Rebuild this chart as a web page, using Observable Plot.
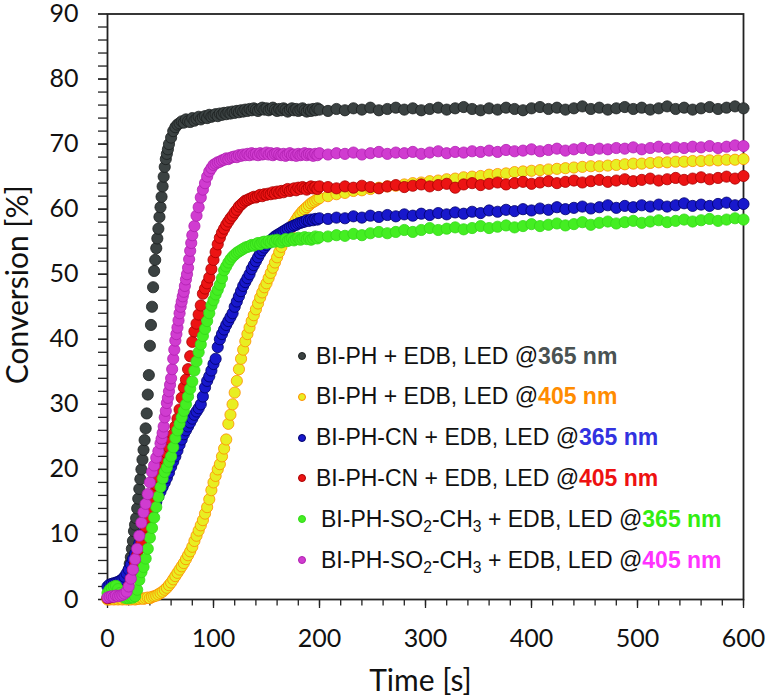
<!DOCTYPE html>
<html>
<head>
<meta charset="utf-8">
<script src="https://cdn.jsdelivr.net/npm/d3@7"></script>
<script src="https://cdn.jsdelivr.net/npm/@observablehq/plot@0.6"></script>
<style>
  html, body { margin: 0; padding: 0; background: #fff; }
  #wrap { position: relative; width: 767px; height: 698px; overflow: hidden; }
  #legend { position: absolute; left: 0; top: 0; font-family: "Liberation Sans", Arial, sans-serif; font-size: 23px; color: #111; }
  .row { position: absolute; height: 30px; display: flex; align-items: center; white-space: nowrap; }
  .dot { position: absolute; width: 8px; height: 8px; border-radius: 50%; box-sizing: border-box; border: 1px solid; }
  .lab sub { font-size: 0.68em; vertical-align: -0.3em; line-height: 0; }
  .nm { font-weight: bold; }
</style>
</head>
<body>
<div id="wrap"><div id="legend"></div></div>
<script>
// ---- Data ----
const times = [
  0,2,4,6,8,10,12,14,16,18,
  20,22,24,26,28,30,32,34,36,38,
  40,42,44,46,48,50,52,54,56,58,
  60,62,64,66,68,70,72,74,76,78,
  80,82,84,86,88,90,92,94,96,98,
  100,102,104,106,108,110,112,114,116,118,
  120,122,124,126,128,130,132,134,136,138,
  140,142,144,146,148,150,152,154,156,158,
  160,162,164,166,168,170,172,174,176,178,
  180,182,184,186,188,190,192,194,196,198,
  200,
  208,216,224,232,240,248,256,264,272,280,
  288,296,304,312,320,328,336,344,352,360,
  368,376,384,392,400,408,416,424,432,440,
  448,456,464,472,480,488,496,504,512,520,
  528,536,544,552,560,568,576,584,592,600
];

const biph365 = [
  0.3,0.5,0.8,1.0,1.2,1.5,1.8,2.2,2.8,3.6,
  4.6,6.5,9.0,11.5,14.0,17.0,20.0,23.0,26.3,31.5,
  39.0,45.0,50.5,54.0,57.0,60.3,63.5,66.5,68.5,70.0,
  71.0,72.0,72.6,73.0,73.2,73.5,73.3,73.8,73.5,73.4,
  74.0,73.6,73.9,74.2,73.8,74.1,74.3,74.0,74.5,74.2,
  74.4,74.6,74.3,74.7,74.5,74.8,74.6,74.9,74.7,75.0,
  74.8,75.1,74.9,75.2,75.0,75.3,75.1,75.4,75.2,75.5,
  75.3,75.1,75.4,75.6,75.3,75.5,75.2,75.4,75.6,75.3,
  75.1,75.4,75.2,75.5,75.3,75.0,75.3,75.5,75.2,75.4,
  75.1,75.3,75.5,75.2,75.0,75.3,75.1,75.4,75.2,75.5,
  75.3,
  75.1,75.4,75.2,75.5,75.3,75.6,75.2,75.4,75.6,75.3,
  75.5,75.2,75.4,75.6,75.3,75.5,75.7,75.4,75.2,75.5,
  75.3,75.6,75.4,75.2,75.5,75.7,75.4,75.6,75.3,75.5,
  75.8,75.4,75.6,75.3,75.5,75.7,75.4,75.6,75.3,75.5,
  75.8,75.4,75.6,75.3,75.5,75.7,75.4,75.6,75.8,75.5
];
const biph365ExtraTimes = [21,23,25,27,29,31,33,35,37,39,41,43,45,47,49,51,53,55,57];
const biph365Extra = [5.5,7.8,10.5,12.5,15.5,18.5,21.5,24.5,28.6,34.5,42.2,48.0,52.2,55.5,58.8,61.9,65.0,67.7,69.2];

const biph405 = [
  0.0,0.0,0.1,0.0,0.1,0.0,0.1,0.0,0.1,0.0,
  0.1,0.0,0.1,0.0,0.1,0.1,0.2,0.1,0.2,0.3,
  0.2,0.4,0.5,0.6,0.8,1.0,1.2,1.5,1.8,2.2,
  2.6,3.1,3.6,4.1,4.6,5.1,5.6,6.2,6.8,7.4,
  8.1,9.0,9.8,10.6,11.4,12.2,13.2,14.2,15.4,16.8,
  18.0,19.0,20.0,20.8,22.0,23.2,24.6,27.0,28.4,30.0,
  31.8,33.6,35.4,37.0,38.4,39.7,40.8,41.8,42.8,43.7,
  44.6,45.5,46.4,47.2,48.0,48.6,49.4,50.2,51.0,51.8,
  52.6,53.4,54.2,55.0,55.6,56.2,56.8,57.4,57.9,58.4,
  58.9,59.3,59.7,60.0,60.3,60.6,60.9,61.1,61.3,61.5,
  61.7,
  62.0,62.3,62.5,62.8,62.9,63.1,63.3,63.5,63.6,63.8,
  64.0,64.1,64.3,64.4,64.6,64.7,64.9,65.0,65.1,65.3,
  65.4,65.5,65.7,65.8,65.9,66.0,66.1,66.2,66.3,66.4,
  66.5,66.6,66.6,66.7,66.8,66.9,67.0,67.0,67.1,67.2,
  67.2,67.3,67.3,67.4,67.4,67.5,67.5,67.6,67.6,67.7
];

const cn365 = [
  2.0,2.3,2.4,2.5,2.6,2.7,2.9,3.1,3.5,4.0,
  4.6,5.4,6.2,7.0,7.8,8.6,9.4,10.2,11.0,11.8,
  12.6,13.4,14.2,15.0,15.8,16.6,17.3,18.0,18.7,19.5,
  20.4,21.2,22.0,22.9,23.8,24.6,25.4,26.0,26.6,27.2,
  27.8,28.4,28.9,29.4,30.0,31.2,32.6,33.6,34.3,35.2,
  36.2,37.0,38.8,40.0,40.8,41.5,42.2,42.8,43.4,44.0,
  45.0,45.8,46.6,47.4,48.2,48.8,49.4,50.0,50.8,51.4,
  52.0,52.6,53.2,53.7,54.1,54.5,54.9,55.2,55.5,55.8,
  56.0,56.2,56.4,56.6,56.8,57.0,57.2,57.3,57.5,57.6,
  57.8,57.9,58.0,58.1,58.3,58.2,58.4,58.3,58.5,58.4,
  58.6,
  58.5,58.7,58.6,58.9,58.7,59.0,58.8,59.1,58.9,59.2,
  59.0,59.3,59.1,59.4,59.2,59.5,59.3,59.6,59.4,59.8,
  59.6,59.9,59.7,60.0,59.8,60.1,59.9,60.3,60.0,60.2,
  60.4,60.1,60.3,60.6,60.2,60.5,60.3,60.6,60.4,60.7,
  60.4,60.6,60.9,60.5,60.7,60.5,60.8,61.0,60.6,60.8
];

const cn405 = [
  0.2,0.3,0.4,0.5,0.6,0.7,0.8,0.9,1.1,1.4,
  2.0,3.2,4.5,5.6,6.8,7.8,8.8,10.0,11.2,12.6,
  14.0,15.2,16.4,17.6,18.8,19.6,20.6,21.6,22.5,23.4,
  24.4,25.4,26.6,27.8,29.2,31.0,32.6,33.8,35.4,37.4,
  39.6,41.2,42.4,43.8,45.2,47.0,47.8,48.6,49.5,50.8,
  52.2,53.4,54.6,55.6,56.4,57.0,57.6,58.1,58.6,59.0,
  59.5,59.9,60.4,60.7,61.0,61.3,61.4,61.6,61.7,61.9,
  61.8,62.0,62.2,62.0,62.3,62.2,62.4,62.3,62.6,62.4,
  62.7,62.5,62.8,62.6,62.9,63.1,62.8,63.0,63.2,62.9,
  63.3,63.1,63.4,63.2,63.0,63.3,63.5,63.2,63.4,63.1,
  63.5,
  63.4,63.2,63.5,63.3,63.6,63.4,63.2,63.5,63.7,63.4,
  63.6,63.8,63.5,63.7,63.9,63.3,63.8,64.0,63.7,63.9,
  64.1,63.8,64.0,64.2,63.9,64.1,64.3,64.0,64.2,64.4,
  64.1,64.3,64.5,64.2,64.4,64.6,64.3,64.5,64.7,64.4,
  64.6,64.8,64.5,64.7,64.9,64.6,64.8,65.0,64.7,65.1
];

const so2365 = [
  1.0,1.5,1.8,2.0,2.1,1.6,1.0,0.6,0.3,0.2,
  0.2,0.3,0.3,0.5,1.5,3.0,4.2,5.0,6.3,7.8,
  9.5,11.0,12.6,14.2,15.8,17.3,18.6,19.6,20.3,21.2,
  22.0,23.4,24.8,26.0,27.0,28.0,29.0,30.0,31.2,32.4,
  33.5,35.2,36.6,38.0,39.2,40.5,41.6,42.8,44.0,45.2,
  46.0,46.9,47.6,48.4,49.4,50.6,51.2,51.8,52.3,52.7,
  53.0,53.3,53.5,53.7,53.9,54.1,54.2,54.3,54.5,54.4,
  54.6,54.8,54.6,54.9,55.0,54.8,55.1,54.9,55.2,55.0,
  55.3,55.1,54.9,55.2,55.4,55.1,55.3,55.5,55.2,55.4,
  55.6,55.3,55.5,55.7,55.4,55.6,55.3,55.5,55.8,55.5,
  55.7,
  55.8,56.0,55.9,56.2,56.0,56.3,56.5,56.3,56.5,56.8,
  56.5,56.8,57.1,56.8,57.0,57.2,56.9,57.1,57.4,57.1,
  57.3,57.5,57.2,57.4,57.7,57.4,57.6,57.8,57.5,57.7,
  58.0,57.6,57.9,58.1,57.8,58.0,58.2,57.9,58.1,58.3,
  58.0,58.2,58.4,58.1,58.3,58.5,58.2,58.4,58.6,58.4
];

const so2405 = [
  0.3,0.4,0.5,0.4,0.6,0.5,0.6,0.7,0.9,1.2,
  2.0,3.2,4.6,6.2,7.8,9.8,11.8,13.4,14.7,16.2,
  18.0,19.6,20.6,21.8,22.8,24.0,25.6,28.0,30.2,32.0,
  34.0,37.0,39.8,41.8,44.0,45.8,47.3,49.2,51.0,53.6,
  56.0,57.4,59.0,60.3,61.8,63.0,64.0,65.0,65.8,66.3,
  66.8,67.0,67.2,67.3,67.5,67.6,67.8,67.7,67.9,68.0,
  68.1,68.0,68.3,68.2,68.4,68.3,68.5,68.3,68.6,68.4,
  68.5,68.3,68.6,68.4,68.5,68.7,68.4,68.6,68.3,68.5,
  68.6,68.4,68.3,68.5,68.2,68.4,68.6,68.3,68.4,68.2,
  68.5,68.3,68.4,68.6,68.3,68.5,68.4,68.2,68.5,68.3,
  68.6,
  68.4,68.6,68.5,68.7,68.4,68.6,68.8,68.5,68.7,68.6,
  68.8,68.5,68.7,68.9,68.6,68.8,68.7,68.9,68.8,69.0,
  68.8,69.1,68.9,69.0,69.2,68.9,69.1,69.3,69.0,69.2,
  69.4,69.1,69.3,69.2,69.4,69.3,69.5,69.2,69.4,69.6,
  69.3,69.5,69.4,69.6,69.5,69.7,69.4,69.6,69.8,69.7
];
const so2405ExtraTimes = [51,53,55,57,59,61,63,65,67,69,71,73,75,77,79];
const so2405Extra = [24.7,26.6,29.0,31.0,33.0,35.4,38.4,40.8,42.9,45.0,46.6,48.2,50.0,52.3,54.8];

// Series / legend (legend order = drawing order)
const compounds = ["BI-PH", "BI-PH", "BI-PH-CN", "BI-PH-CN", "BI-PH-SO2-CH3", "BI-PH-SO2-CH3"];
const wavelengths = ["365 nm", "405 nm", "365 nm", "405 nm", "365 nm", "405 nm"];
const seriesValues = [biph365, biph405, cn365, cn405, so2365, so2405];
const extraTimes = [biph365ExtraTimes, [], [], [], [], so2405ExtraTimes];
const extraValues = [biph365Extra, [], [], [], [], so2405Extra];
const dotFills = ["#3b4242", "#e8ee22", "#1818cc", "#ec1414", "#44ee22", "#d03cd0"];
const dotStrokes = ["#1c2020", "#ff8c00", "#00006a", "#a80000", "#33d818", "#b020b0"];
const nmColors = ["#4a5252", "#ff8c00", "#3232e0", "#ee1111", "#33ee11", "#ff33ff"];

const xTicks = [0, 100, 200, 300, 400, 500, 600];
const xMinorTicks = [0,20,40,60,80,100,120,140,160,180,200,220,240,260,280,300,320,340,360,380,400,420,440,460,480,500,520,540,560,580,600];
const yTicks = [0, 10, 20, 30, 40, 50, 60, 70, 80, 90];
const yMinorTicks = [0,2,4,6,8,10,12,14,16,18,20,22,24,26,28,30,32,34,36,38,40,42,44,46,48,50,52,54,56,58,60,62,64,66,68,70,72,74,76,78,80,82,84,86,88,90];
const xTitle = "Time [s]";
const yTitle = "Conversion [%]";

// ---- Build tables ----
const seriesData = seriesValues.map((vals, k) => {
  const rows = times.map((t, i) => ({t, v: vals[i]}));
  extraTimes[k].forEach((t, i) => rows.push({t, v: extraValues[k][i]}));
  rows.sort((a, b) => a.t - b.t);
  return rows.filter(d => d.v !== undefined);
});

const axisFont = "Lato, 'Open Sans', sans-serif";

const marks = [
  Plot.axisY(yMinorTicks, {tickSize: 9, strokeWidth: 1.3, stroke: "#222", fill: "none", label: null}),
  Plot.axisX(xMinorTicks, {tickSize: 6.5, strokeWidth: 1.3, stroke: "#222", fill: "none", label: null}),
  Plot.axisY(yTicks, {tickSize: 9, tickPadding: 20, strokeWidth: 1.3, stroke: "#222", fill: "#111", fontSize: 25, label: null}),
  Plot.axisX(xTicks, {tickSize: 9, tickPadding: 21, strokeWidth: 1.3, stroke: "#222", fill: "#111", fontSize: 25, label: null}),
  Plot.frame({stroke: "#222", strokeWidth: 1.8}),
  ...seriesData.map((rows, k) => Plot.dot(rows, {x: "t", y: "v", r: 5.6, fill: dotFills[k], stroke: dotStrokes[k], strokeWidth: 0.8})),
  Plot.text([yTitle], {text: d => d, frameAnchor: "left", dx: -89, dy: -22, rotate: -90, fontSize: 30, lineAnchor: "middle", textAnchor: "middle", fill: "#111"}),
  Plot.text([xTitle], {text: d => d, frameAnchor: "bottom", dx: -5, dy: 82, fontSize: 30, lineAnchor: "middle", textAnchor: "middle", fill: "#111"})
];

const chart = Plot.plot({
  width: 767,
  height: 698,
  marginLeft: 107,
  marginRight: 24,
  marginTop: 13.5,
  marginBottom: 99,
  x: {domain: [0, 600]},
  y: {domain: [0, 90]},
  style: {fontFamily: axisFont, background: "#fff", overflow: "visible"},
  marks
});
document.getElementById("wrap").prepend(chart);

// ---- Legend (HTML overlay inside plot area) ----
const legend = document.getElementById("legend");
const rowCenter0 = 356, rowStep = 40.8;
compounds.forEach((c, k) => {
  const cy = rowCenter0 + k * rowStep;
  const dot = document.createElement("span");
  dot.className = "dot";
  dot.style.left = "298px";
  dot.style.top = (cy - 4) + "px";
  dot.style.background = dotFills[k];
  dot.style.borderColor = dotStrokes[k];
  legend.appendChild(dot);
  const row = document.createElement("div");
  row.className = "row";
  row.style.left = (c.includes("SO2") ? 321 : 316) + "px";
  row.style.top = (cy - 15) + "px";
  const lab = document.createElement("span");
  lab.className = "lab";
  lab.innerHTML = c.replace(/([A-Z])(\d)/g, "$1<sub>$2</sub>") + " + EDB, LED @" +
    `<span class="nm" style="color:${nmColors[k]}">${wavelengths[k]}</span>`;
  row.appendChild(lab);
  legend.appendChild(row);
});
</script>
</body>
</html>
